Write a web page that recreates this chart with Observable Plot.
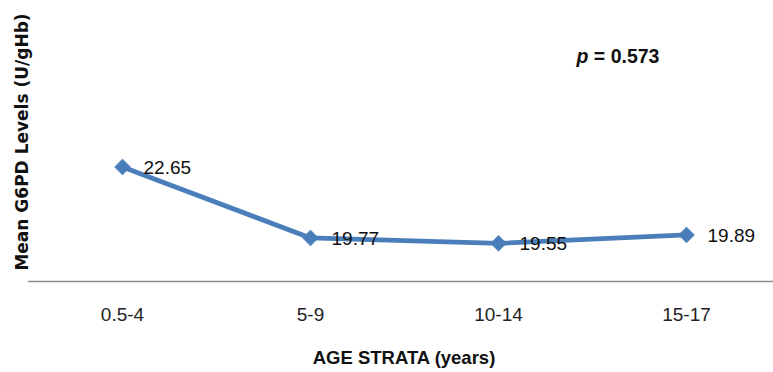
<!DOCTYPE html>
<html><head><meta charset="utf-8">
<script src="https://cdn.jsdelivr.net/npm/d3@7"></script>
<script src="https://cdn.jsdelivr.net/npm/@observablehq/plot@0.6"></script>
<style>
body{margin:0;background:#fff;}
#chart svg{display:block;}
</style>
</head><body><div id="chart"></div>
<script>
const strata = ["0.5-4", "5-9", "10-14", "15-17"];
const meanG6PD = [22.65, 19.77, 19.55, 19.89];
const valueLabels = ["22.65", "19.77", "19.55", "19.89"];
const pText = "p = 0.573";

const data = strata.map((s, i) => ({stratum: s, value: meanG6PD[i], label: valueLabels[i]}));
const blue = "#4A7EBB";
const numFont = "'Liberation Sans', Arial, sans-serif";

const chart = Plot.plot({
  width: 773,
  height: 372,
  marginLeft: 28,
  marginRight: 0,
  marginTop: 10,
  marginBottom: 91,
  style: {background: "#fff", overflow: "visible"},
  x: {type: "point", domain: strata, range: [122, 686], padding: 0},
  y: {domain: [18, 29]},
  marks: [
    Plot.ruleY([18], {stroke: "#8c8c8c", strokeWidth: 1.6}),
    Plot.axisX({tickSize: 0, tickPadding: 26, fontSize: 19, fontFamily: numFont, label: null, fill: "#222"}),
    Plot.axisY({ticks: [], tickSize: 0, label: null}),
    Plot.line(data, {x: "stratum", y: "value", stroke: blue, strokeWidth: 4.8}),
    Plot.dot(data, {x: "stratum", y: "value", symbol: "diamond2", r: 7.2, fill: blue, stroke: blue, strokeWidth: 0.5}),
    Plot.text(data, {x: "stratum", y: "value", text: "label", textAnchor: "start", dx: 21, dy: 1, fontSize: 19, fontFamily: numFont, fill: "#111"})
  ]
});

// axis titles and annotation as real SVG text
const svg = d3.select(chart);
svg.append("text")
  .attr("transform", "translate(23,142) rotate(-90)")
  .attr("text-anchor", "middle").attr("dominant-baseline", "middle")
  .attr("font-family", "'DejaVu Sans', sans-serif").attr("font-weight", "bold")
  .attr("font-size", 17).attr("fill", "#111")
  .text("Mean G6PD Levels (U/gHb)");
svg.append("text")
  .attr("x", 404).attr("y", 359)
  .attr("text-anchor", "middle").attr("dominant-baseline", "middle")
  .attr("font-family", numFont).attr("font-weight", "bold")
  .attr("font-size", 18.5).attr("fill", "#111")
  .text("AGE STRATA (years)");
const p = svg.append("text")
  .attr("x", 618).attr("y", 58)
  .attr("text-anchor", "middle").attr("dominant-baseline", "middle")
  .attr("font-family", "'Liberation Sans', sans-serif").attr("font-weight", "bold")
  .attr("font-size", 19.5).attr("fill", "#111");
p.append("tspan").attr("font-style", "italic").text(pText.split(" ")[0]);
p.append("tspan").text(" " + pText.split(" ").slice(1).join(" "));

document.getElementById("chart").appendChild(chart);
</script>
</body></html>
